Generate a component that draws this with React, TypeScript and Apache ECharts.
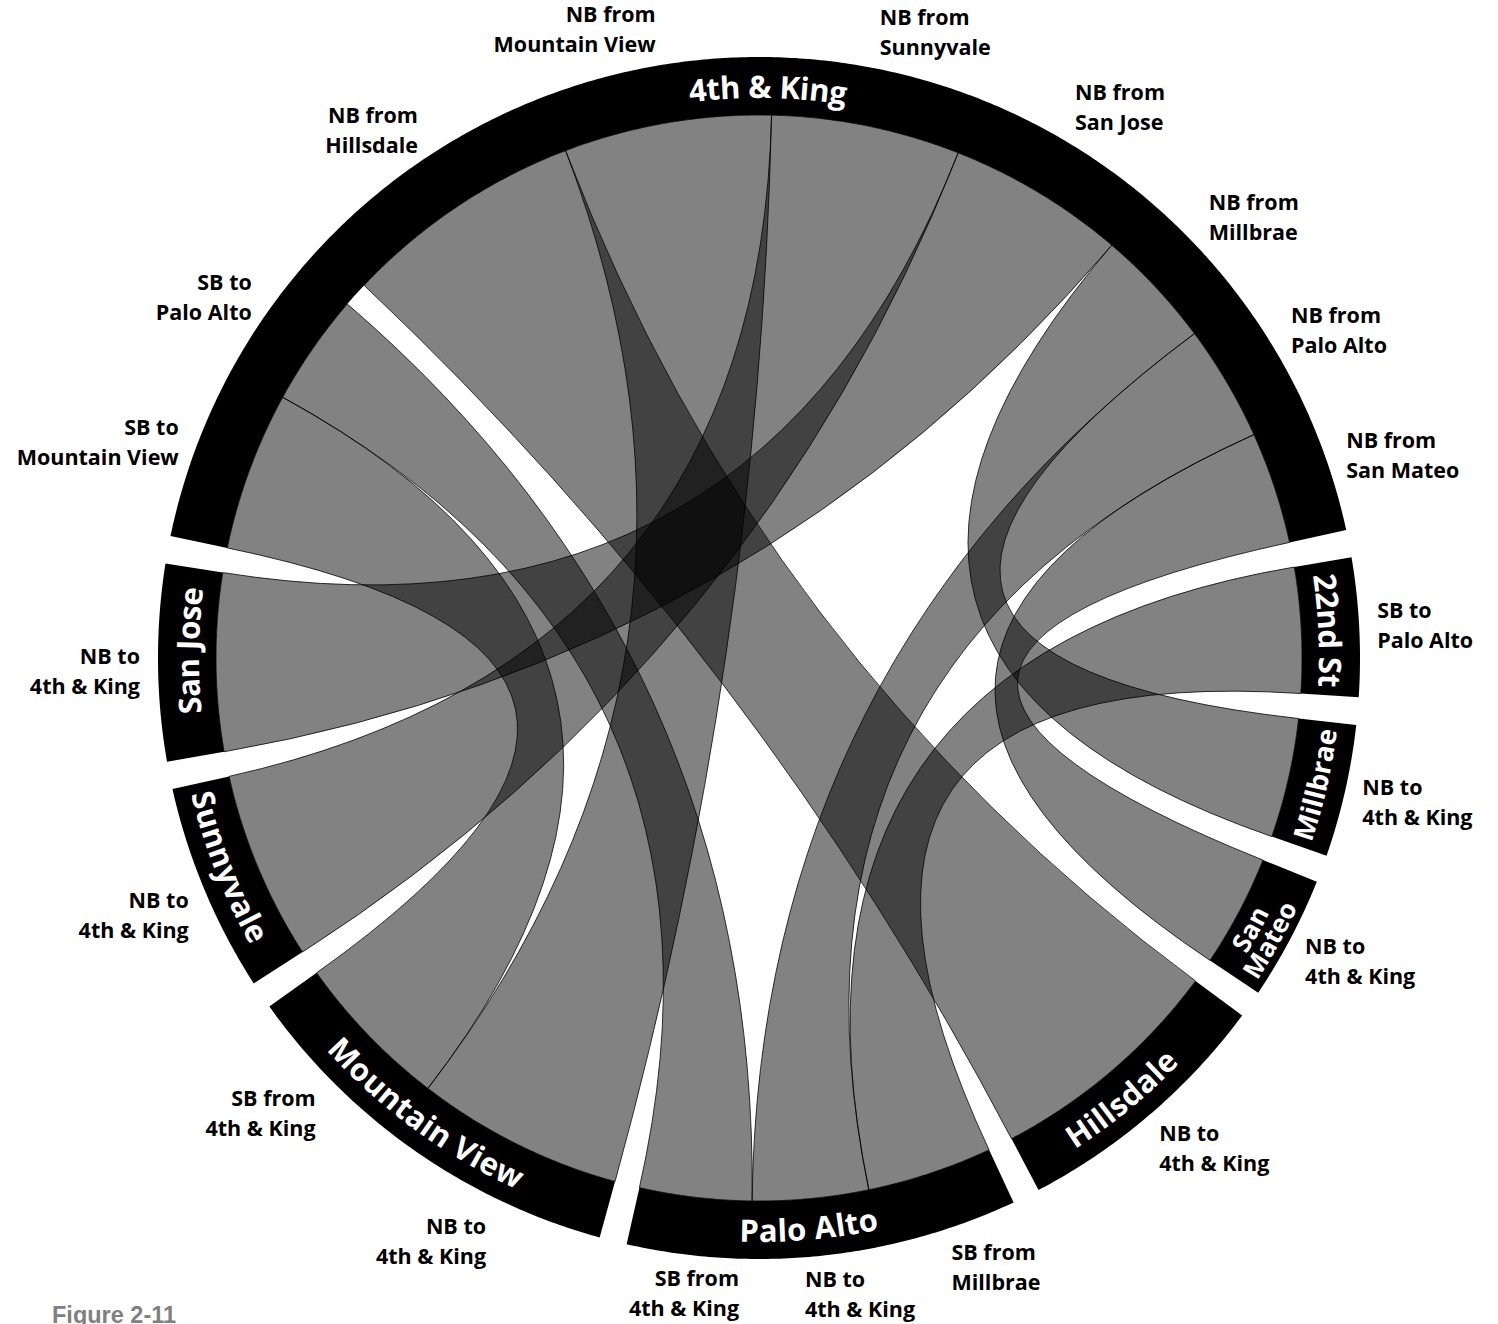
import React, { useEffect, useRef } from 'react';
import * as echarts from 'echarts';

// ---------------- data ----------------
const NODE_NAMES = ['4th & King', '22nd St', 'Millbrae', 'San Mateo', 'Hillsdale', 'Palo Alto', 'Mountain View', 'Sunnyvale', 'San Jose'];
const NODE_LABEL_LINES: string[][] = [['4th & King'], ['22nd St'], ['Millbrae'], ['San', 'Mateo'], ['Hillsdale'], ['Palo Alto'], ['Mountain View'], ['Sunnyvale'], ['San Jose']];

// one chord per link (value = share of riders, read from the arc widths)
const LINK_SOURCE = ['4th & King', '4th & King', 'Hillsdale', 'Mountain View', 'Sunnyvale', 'San Jose', 'Millbrae', 'Palo Alto', 'San Mateo', '22nd St'];
const LINK_TARGET = ['Mountain View', 'Palo Alto', '4th & King', '4th & King', '4th & King', '4th & King', '4th & King', '4th & King', '4th & King', 'Palo Alto'];
const LINK_VALUE = [17, 12, 25.8, 22.2, 20.2, 19, 12.8, 12.4, 12, 13.4];

// clockwise order of chord ends on each node (-1 = blank spacer)
const NODE_SLOTS: number[][] = [
  [0, 1, -1, 2, 3, 4, 5, 6, 7, 8],
  [9],
  [6],
  [8],
  [2],
  [9, 7, 1],
  [3, 0],
  [4],
  [5],
];
const SLOT_LABELS: string[][] = [
  ['SB to\nMountain View', 'SB to\nPalo Alto', '', 'NB from\nHillsdale', 'NB from\nMountain View', 'NB from\nSunnyvale', 'NB from\nSan Jose', 'NB from\nMillbrae', 'NB from\nPalo Alto', 'NB from\nSan Mateo'],
  ['SB to\nPalo Alto'],
  ['NB to\n4th & King'],
  ['NB to\n4th & King'],
  ['NB to\n4th & King'],
  ['SB from\nMillbrae', 'NB to\n4th & King', 'SB from\n4th & King'],
  ['NB to\n4th & King', 'SB from\n4th & King'],
  ['NB to\n4th & King'],
  ['NB to\n4th & King'],
];
const FIGURE_CAPTION = 'Figure 2-11';

// ---------------- layout / style constants ----------------
const PAD = 2.65;
const START_COMPASS_DEG = -78.3;
const NODE_LABEL_SHIFT_PX = 12;
const CENTER = [759, 658];
const RADIUS = 601;
const R_IN = 543 / 601;
const R_NODE_LABEL = 572 / 601;
const FONT_FAMILY = '"Open Sans", "Noto Sans", sans-serif';
const OUT_FONT_SIZE = 21.5;
const OUT_LINE_H = 30;

let canvasCtx: any = null;
function measure(text: string, font: string): number {
  if (!canvasCtx) canvasCtx = document.createElement('canvas').getContext('2d');
  if (!canvasCtx) return text.length * 10;
  canvasCtx.font = font;
  return canvasCtx.measureText(text).width;
}

type End = { link: number; node: number; start: number; end: number; label: string };
const ends: End[] = [];
const linkEnds: End[][] = LINK_VALUE.map(() => []);
const nodeSpan: { start: number; end: number }[] = [];
let pos = 0;
NODE_SLOTS.forEach((slots, ni) => {
  const s0 = pos;
  slots.forEach((l, k) => {
    if (l < 0) {
      pos += PAD;
      return;
    }
    const e: End = { link: l, node: ni, start: pos, end: pos + LINK_VALUE[l], label: SLOT_LABELS[ni][k] };
    ends.push(e);
    linkEnds[l].push(e);
    pos += LINK_VALUE[l];
  });
  nodeSpan.push({ start: s0, end: pos });
  pos += PAD;
});
const TOTAL = pos;
const labeledEnds = ends.filter((e) => e.label);

function compass(p: number[], c: number[]) {
  return Math.atan2(p[0] - c[0], -(p[1] - c[1]));
}

function arcPoints(api: any, r: number, a0: number, a1: number) {
  const n = Math.max(2, Math.ceil(Math.abs(a1 - a0) / 0.4));
  const pts: number[][] = [];
  for (let k = 0; k <= n; k++) pts.push(api.coord([r, a0 + ((a1 - a0) * k) / n]));
  return pts;
}

function ribbonItem(params: any, api: any) {
  const pair = linkEnds[params.dataIndex];
  const a = pair[0];
  const b = pair[1];
  const c = api.coord([0, 0]);
  const arcA = arcPoints(api, R_IN, a.start, a.end);
  const arcB = arcPoints(api, R_IN, b.start, b.end);
  let d = 'M ' + arcA[0][0] + ' ' + arcA[0][1];
  for (let k = 1; k < arcA.length; k++) d += ' L ' + arcA[k][0] + ' ' + arcA[k][1];
  d += ' Q ' + c[0] + ' ' + c[1] + ' ' + arcB[0][0] + ' ' + arcB[0][1];
  for (let k = 1; k < arcB.length; k++) d += ' L ' + arcB[k][0] + ' ' + arcB[k][1];
  d += ' Q ' + c[0] + ' ' + c[1] + ' ' + arcA[0][0] + ' ' + arcA[0][1] + ' Z';
  return {
    type: 'path',
    shape: { pathData: d },
    style: { fill: 'rgba(0,0,0,0.49)', stroke: 'rgba(0,0,0,0.78)', lineWidth: 1 },
  };
}

function nodeItem(params: any, api: any) {
  const i = params.dataIndex;
  const { start, end } = nodeSpan[i];
  const outer = arcPoints(api, 1, start, end);
  const inner = arcPoints(api, R_IN, end, start);
  const children: any[] = [
    { type: 'polygon', shape: { points: outer.concat(inner) }, style: { fill: '#000' } },
  ];
  const c = api.coord([0, 0]);
  const p1 = api.coord([1, 0]);
  const rPx = Math.hypot(p1[0] - c[0], p1[1] - c[1]);
  const unitsPerRad = (TOTAL / 360) * (180 / Math.PI);
  const arcLen = ((end - start) / unitsPerRad) * R_NODE_LABEL * rPx;
  const lines = NODE_LABEL_LINES[i];
  const baseFs = lines.length > 1 ? 26 : 31;
  const widest = Math.max(...lines.map((l) => measure(l, 'bold ' + baseFs + 'px ' + FONT_FAMILY)));
  const fs = widest > arcLen - 14 ? (baseFs * (arcLen - 14)) / widest : baseFs;
  const font = 'bold ' + fs + 'px ' + FONT_FAMILY;
  const wMax = Math.max(...lines.map((l) => measure(l, font)));
  const shiftPx = Math.max(0, Math.min(NODE_LABEL_SHIFT_PX, (arcLen - wMax) / 2 - 8));
  const mid0 = (start + end) / 2;
  const mid = mid0 + (shiftPx / (R_NODE_LABEL * rPx)) * unitsPerRad;
  const mp = api.coord([R_NODE_LABEL, mid0]);
  const th = compass(mp, c);
  const upright = Math.cos(th) > -0.1;
  const gapLine = lines.length > 1 ? 23 : fs;
  lines.forEach((line, li) => {
    const off = (li - (lines.length - 1) / 2) * gapLine;
    const rLine = R_NODE_LABEL - ((upright ? 1 : -1) * off) / rPx;
    const W = measure(line, font);
    for (let k = 0; k < line.length; k++) {
      const ch = line[k];
      if (ch === ' ') continue;
      const x0 = measure(line.slice(0, k), font);
      const x1 = measure(line.slice(0, k + 1), font);
      const delta = (x0 + x1) / 2 - W / 2;
      const du = (delta / (rLine * rPx)) * unitsPerRad;
      const au = mid + (upright ? du : -du);
      const p = api.coord([rLine, au]);
      const t = compass(p, c);
      children.push({
        type: 'text',
        x: p[0],
        y: p[1],
        rotation: upright ? -t : Math.PI - t,
        style: { text: ch, font, fill: '#fff', align: 'center', verticalAlign: 'middle' },
      });
    }
  });
  return { type: 'group', children };
}

function slotLabelItem(params: any, api: any) {
  const e = labeledEnds[params.dataIndex];
  const c = api.coord([0, 0]);
  const p1 = api.coord([1, 0]);
  const rPx = Math.hypot(p1[0] - c[0], p1[1] - c[1]);
  const mid = (e.start + e.end) / 2;
  const pm = api.coord([1, mid]);
  const th = compass(pm, c);
  const s = Math.sin(th);
  const co = Math.cos(th);
  const gap = 6 + 12 * Math.abs(s);
  const p = api.coord([1 + gap / rPx, mid]);
  const font = 'bold ' + OUT_FONT_SIZE + 'px ' + FONT_FAMILY;
  const lines = e.label.split('\n');
  const W = Math.max(...lines.map((l) => measure(l, font)));
  const H = lines.length * OUT_LINE_H;
  const sAdj = co >= 0 ? s : s + 0.1;
  const k = co >= 0 ? 8 : 4;
  const f = Math.sign(sAdj) * Math.min(1, k * Math.abs(sAdj));
  const cx = p[0] + (f * W) / 2;
  const cy = p[1] - (co * H) / 2 + (s < -0.2 ? 7 : 0);
  const left = sAdj >= 0;
  return {
    type: 'text',
    x: left ? cx - W / 2 : cx + W / 2,
    y: cy,
    style: {
      text: e.label,
      font,
      fill: '#000',
      align: left ? 'left' : 'right',
      verticalAlign: 'middle',
      lineHeight: OUT_LINE_H,
    },
  };
}

const option: any = {
  animation: false,
  backgroundColor: '#fff',
  polar: { center: CENTER, radius: RADIUS },
  angleAxis: {
    type: 'value',
    min: 0,
    max: TOTAL,
    startAngle: 90 - START_COMPASS_DEG,
    clockwise: true,
    show: false,
  },
  radiusAxis: { type: 'value', min: 0, max: 1, show: false },
  graphic: [
    {
      type: 'text',
      left: 52,
      top: 1303,
      style: { text: FIGURE_CAPTION, font: 'bold 23.5px "Liberation Sans", Arial, sans-serif', fill: '#808080' },
    },
  ],
  series: [
    {
      type: 'custom',
      name: 'chords',
      coordinateSystem: 'polar',
      silent: true,
      z: 1,
      dimensions: ['radius', 'angle'],
      encode: { radius: 0, angle: 1 },
      data: LINK_VALUE.map((v, i) => ({
        name: LINK_SOURCE[i] + ' → ' + LINK_TARGET[i],
        value: [R_IN, (linkEnds[i][0].start + linkEnds[i][0].end) / 2],
      })),
      renderItem: ribbonItem,
    },
    {
      type: 'custom',
      name: 'stations',
      coordinateSystem: 'polar',
      silent: true,
      z: 2,
      dimensions: ['radius', 'angle'],
      encode: { radius: 0, angle: 1 },
      data: NODE_NAMES.map((n, i) => ({ name: n, value: [1, (nodeSpan[i].start + nodeSpan[i].end) / 2] })),
      renderItem: nodeItem,
    },
    {
      type: 'custom',
      name: 'endLabels',
      coordinateSystem: 'polar',
      silent: true,
      z: 3,
      dimensions: ['radius', 'angle'],
      encode: { radius: 0, angle: 1 },
      data: labeledEnds.map((e) => ({ name: e.label, value: [1, (e.start + e.end) / 2] })),
      renderItem: slotLabelItem,
    },
  ],
};

export default function App() {
  const ref = useRef<HTMLDivElement>(null);
  useEffect(() => {
    const chart = echarts.init(ref.current as HTMLDivElement, null, { renderer: 'svg' });
    chart.setOption(option);
    return () => chart.dispose();
  }, []);
  return (
    <div
      ref={ref}
      style={{ position: 'absolute', left: 0, top: 0, width: 1498, height: 1324, background: '#fff' }}
    />
  );
}
